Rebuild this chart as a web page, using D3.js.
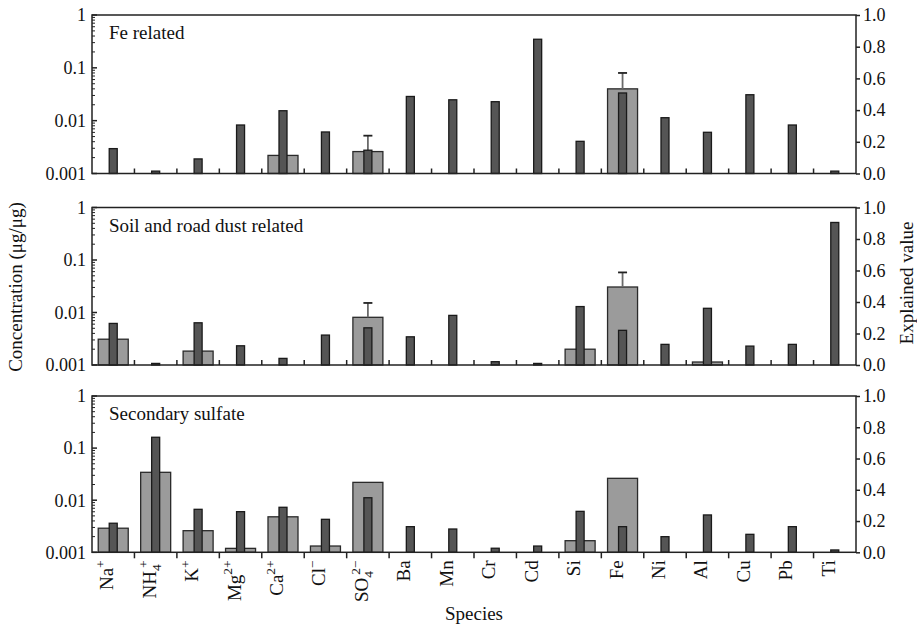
<!DOCTYPE html>
<html><head><meta charset="utf-8">
<script src="https://cdn.jsdelivr.net/npm/d3@7"></script>
<style>
body{margin:0;background:#fff;}
</style></head>
<body><svg id="c" width="917" height="626"></svg>
<script>
// ---- data ----
const species = ["Na+","NH4+","K+","Mg2+","Ca2+","Cl-","SO42-","Ba","Mn","Cr","Cd","Si","Fe","Ni","Al","Cu","Pb","Ti"];
// label parts: [text, kind] kind: n normal, sup, sub
const speciesLabelParts = [
  [["Na","n"],["+","sup"]],
  [["NH","n"],["4","sub"],["+","supStack"]],
  [["K","n"],["+","sup"]],
  [["Mg","n"],["2+","sup"]],
  [["Ca","n"],["2+","sup"]],
  [["Cl","n"],["\u2212","sup"]],
  [["SO","n"],["4","sub"],["2\u2212","supStack"]],
  [["Ba","n"]],[["Mn","n"]],[["Cr","n"]],[["Cd","n"]],[["Si","n"]],[["Fe","n"]],
  [["Ni","n"]],[["Al","n"]],[["Cu","n"]],[["Pb","n"]],[["Ti","n"]]
];
const panelTitles = ["Fe related","Soil and road dust related","Secondary sulfate"];

// concentration (µg/µg), log axis; null = below axis
const feConc      = [null,null,null,null,0.0022,null,0.0026,null,null,null,null,null,0.040,null,null,null,null,null];
const feConcErr   = [null,null,null,null,null,null,0.0052,null,null,null,null,null,0.080,null,null,null,null,null];
const feExplained = [0.157,0.015,0.092,0.306,0.396,0.262,0.147,0.486,0.465,0.453,0.847,0.203,0.508,0.352,0.260,0.497,0.306,0.015];

const soilConc      = [0.0031,null,0.00184,null,null,null,0.0081,null,null,null,null,0.0020,0.0306,null,0.00114,null,null,null];
const soilConcErr   = [null,null,null,null,null,null,0.0152,null,null,null,null,null,0.058,null,null,null,null,null];
const soilExplained = [0.264,0.010,0.268,0.122,0.042,0.190,0.236,0.179,0.315,0.021,0.010,0.371,0.220,0.131,0.360,0.120,0.131,0.905];

const sulfConc      = [0.0029,0.0343,0.0026,0.00119,0.0048,0.00132,0.022,null,null,null,null,0.00167,0.0263,null,null,null,null,null];
const sulfConcErr   = [null,null,null,null,null,null,null,null,null,null,null,null,null,null,null,null,null,null];
const sulfExplained = [0.186,0.736,0.275,0.260,0.288,0.211,0.349,0.164,0.149,0.026,0.040,0.262,0.164,0.100,0.239,0.115,0.164,0.015];

const leftTicks = [1,0.1,0.01,0.001];
const leftTickLabels = ["1","0.1","0.01","0.001"];
const rightTicks = [0,0.2,0.4,0.6,0.8,1.0];
const rightTickLabels = ["0.0","0.2","0.4","0.6","0.8","1.0"];

const panelsData = [
  {title:panelTitles[0], conc:feConc, err:feConcErr, expl:feExplained},
  {title:panelTitles[1], conc:soilConc, err:soilConcErr, expl:soilExplained},
  {title:panelTitles[2], conc:sulfConc, err:sulfConcErr, expl:sulfExplained}
];

// ---- layout ----
const FONT = "'Liberation Serif', Tinos, 'Times New Roman', Times, 'DejaVu Serif', serif";
const L = 92, R = 856;
const tops = [15, 207.5, 396];
const heights = [158.5, 157.5, 156.3];
const svg = d3.select("#c").attr("font-family", FONT).style("font-family", FONT);
const x = d3.scaleBand().domain(species).range([L,R]).padding(0);
const wideW = 30, narrowW = 8;
const fs = 18;

function txt(sel){ return sel.attr("font-family",FONT).style("font-family",FONT).attr("fill","#111"); }

panelsData.forEach((p,pi)=>{
  const top = tops[pi], bot = top + heights[pi];
  const yL = d3.scaleLog().domain([0.001,1]).range([bot,top]);
  const yR = d3.scaleLinear().domain([0,1]).range([bot,top]);
  const g = svg.append("g");

  // wide bars (concentration)
  species.forEach((s,i)=>{
    const v = p.conc[i];
    if(v==null) return;
    const cx = x(s)+x.bandwidth()/2;
    g.append("rect").attr("x",cx-wideW/2).attr("y",yL(v)).attr("width",wideW).attr("height",bot-yL(v))
      .attr("fill","#9b9b9b").attr("stroke","#2a2a2a").attr("stroke-width",1.3);
    const e = p.err[i];
    if(e!=null){
      g.append("line").attr("x1",cx).attr("x2",cx).attr("y1",yL(v)).attr("y2",yL(e)).attr("stroke","#6a6a6a").attr("stroke-width",1.8);
      g.append("line").attr("x1",cx-4.5).attr("x2",cx+4.5).attr("y1",yL(e)).attr("y2",yL(e)).attr("stroke","#222").attr("stroke-width",1.8);
    }
  });
  // narrow bars (explained value)
  species.forEach((s,i)=>{
    const v = p.expl[i];
    const cx = x(s)+x.bandwidth()/2;
    g.append("rect").attr("x",cx-narrowW/2).attr("y",yR(v)).attr("width",narrowW).attr("height",Math.max(bot-yR(v),1))
      .attr("fill","#555555").attr("stroke","#1a1a1a").attr("stroke-width",1.3);
  });

  // frame
  g.append("rect").attr("x",L).attr("y",top).attr("width",R-L).attr("height",bot-top)
    .attr("fill","none").attr("stroke","#222").attr("stroke-width",1.5);

  // left log axis: inside ticks
  const minor = [];
  for(let d=0.001; d<1; d*=10){ for(let k=2;k<=9;k++) minor.push(d*k); }
  minor.forEach(v=>{
    g.append("line").attr("x1",L).attr("x2",L+3).attr("y1",yL(v)).attr("y2",yL(v)).attr("stroke","#222").attr("stroke-width",1);
  });
  leftTicks.forEach((v,i)=>{
    g.append("line").attr("x1",L).attr("x2",L+5).attr("y1",yL(v)).attr("y2",yL(v)).attr("stroke","#222").attr("stroke-width",1.5);
    txt(g.append("text")).attr("x",L-6).attr("y",yL(v)).attr("dy","0.35em").attr("text-anchor","end")
      .attr("font-size",fs).text(leftTickLabels[i]);
  });

  // right linear axis: outside ticks
  const rAxis = d3.axisRight(yR).tickValues(rightTicks).tickSize(4).tickFormat((d,i)=>rightTickLabels[i]);
  const ra = g.append("g").attr("transform",`translate(${R},0)`).call(rAxis);
  ra.attr("font-family",FONT).attr("font-size",fs);
  ra.select(".domain").remove();
  ra.selectAll("line").attr("stroke","#222").attr("stroke-width",1.5);
  txt(ra.selectAll("text")).attr("font-size",fs).attr("x",7);

  // category ticks
  const bounds = d3.range(species.length+1).map(i=>L+i*x.bandwidth());
  bounds.slice(1,-1).forEach(bx=>{
    if(pi<2){
      g.append("line").attr("x1",bx).attr("x2",bx).attr("y1",bot).attr("y2",bot-5).attr("stroke","#222").attr("stroke-width",1.5);
    } else {
      g.append("line").attr("x1",bx).attr("x2",bx).attr("y1",bot).attr("y2",bot+6).attr("stroke","#222").attr("stroke-width",1.5);
    }
  });

  // panel title
  txt(g.append("text")).attr("x",L+17).attr("y",top+24).attr("font-size",fs+1).text(p.title);

  // category labels
  if(pi===2){
    species.forEach((s,i)=>{
      const cx = x(s)+x.bandwidth()/2;
      const t = txt(g.append("text")).attr("transform",`translate(${cx},${bot+8}) rotate(-90)`)
        .attr("text-anchor","end").attr("dy","0.35em").attr("font-size",fs+1);
      const parts = speciesLabelParts[i];
      let shift = 0;
      const sfs = fs*0.75;
      parts.forEach(([tx,kind])=>{
        const ts = t.append("tspan").text(tx);
        if(kind==="sup"){ ts.attr("font-size",sfs).attr("dy",(-0.45*fs - shift)); shift=-0.45*fs; }
        else if(kind==="sub"){ ts.attr("font-size",sfs).attr("dy",(0.3*fs - shift)); shift=0.3*fs; }
        else if(kind==="supStack"){ ts.attr("font-size",sfs).attr("dy",(-0.45*fs - shift)).attr("dx",-fs*0.2); shift=-0.45*fs; }
        else { ts.attr("dy",-shift); shift=0; }
      });
    });
  }
});

// axis titles
txt(svg.append("text")).attr("transform","translate(22,287) rotate(-90)").attr("text-anchor","middle")
  .attr("font-size",fs+1).text("Concentration (\u03bcg/\u03bcg)");
txt(svg.append("text")).attr("transform","translate(913,283) rotate(-90)").attr("text-anchor","middle")
  .attr("font-size",fs+1).text("Explained value");
txt(svg.append("text")).attr("x",(L+R)/2).attr("y",620).attr("text-anchor","middle")
  .attr("font-size",fs+1).text("Species");
</script></body></html>
